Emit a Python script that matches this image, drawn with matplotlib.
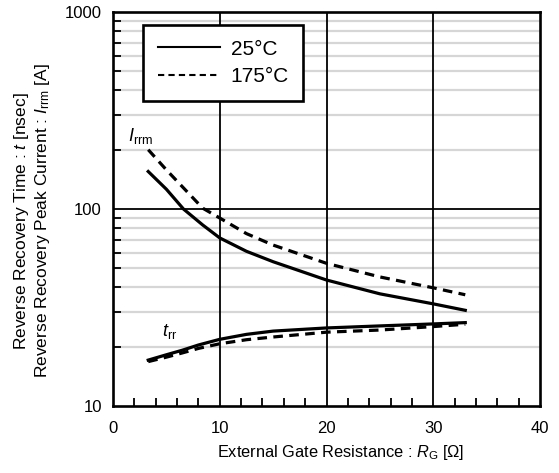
import matplotlib.pyplot as plt
from matplotlib.ticker import FixedLocator, MultipleLocator, NullFormatter

plt.rcParams['font.family'] = ['Liberation Sans', 'DejaVu Sans']
plt.rcParams['mathtext.fontset'] = 'custom'
plt.rcParams['mathtext.rm'] = 'Liberation Sans'
plt.rcParams['mathtext.it'] = 'Liberation Sans:italic'

# data
rg = [3.3, 5, 6.6, 8.4, 10, 12.5, 15, 20, 25, 30, 33]
irrm_25 = [155, 126, 100, 83, 71.3, 61, 54, 43.6, 37.1, 33, 30.6]
irrm_175 = [200, 158, 128, 101, 90, 75, 65.6, 53, 45.2, 39.8, 36.7]
rg_t = [3.3, 5, 6.5, 8, 10, 12.5, 15, 20, 25, 30, 33]
trr_25 = [17.1, 18.2, 19.2, 20.4, 21.8, 23.1, 24.0, 24.9, 25.5, 26.1, 26.5]
trr_175 = [16.8, 17.7, 18.6, 19.6, 20.7, 21.7, 22.4, 23.7, 24.3, 25.3, 26.0]

DASH = (0, (3, 2))

fig = plt.figure(figsize=(5.59, 4.73), dpi=100)
ax = fig.add_axes([113 / 559, 1 - 406 / 473, 427 / 559, 394 / 473])

ax.set_xlim(0, 40)
ax.set_ylim(10, 1000)
ax.set_yscale('log')

minor_y = [k * 10 ** e for e in (1, 2) for k in range(2, 10)]
for v in minor_y:
    ax.axhline(v, color='#d6d6d6', lw=1.6, zorder=0)
ax.axhline(100, color='black', lw=1.3, zorder=1)
for v in (10, 20, 30):
    ax.axvline(v, color='black', lw=1.3, zorder=1)

ax.plot(rg, irrm_25, color='black', lw=2.3, label='25°C', zorder=3)
ax.plot(rg, irrm_175, color='black', lw=2.3, ls=DASH, label='175°C', zorder=3)
ax.plot(rg_t, trr_25, color='black', lw=2.3, zorder=3)
ax.plot(rg_t, trr_175, color='black', lw=2.3, ls=DASH, zorder=3)

ax.text(1.4, 221, r'$I_{\mathrm{rrm}}$', fontsize=13, va='baseline')
ax.text(4.6, 22.6, r'$t_{\mathrm{rr}}$', fontsize=13, va='baseline')

ax.xaxis.set_major_locator(MultipleLocator(10))
ax.xaxis.set_minor_locator(MultipleLocator(2))
ax.yaxis.set_major_locator(FixedLocator([10, 100, 1000]))
ax.yaxis.set_minor_locator(FixedLocator(minor_y))
ax.yaxis.set_minor_formatter(NullFormatter())
ax.set_yticklabels(['10', '100', '1000'])
ax.tick_params(which='both', direction='in', labelsize=12, top=False, right=False)
ax.tick_params(which='major', length=0, pad=8)
ax.tick_params(axis='x', which='major', pad=11)
ax.tick_params(which='minor', length=6, width=1.3)
for s in ax.spines.values():
    s.set_linewidth(1.9)

ax.set_xlabel(r'External Gate Resistance : $R_{\mathrm{G}}$ [Ω]', fontsize=11.8)
ax.xaxis.set_label_coords(0.534, -0.095)
ax.set_ylabel('Reverse Recovery Time : $t$ [nsec]\n'
              r'Reverse Recovery Peak Current : $I_{\mathrm{rrm}}$ [A]',
              fontsize=12.5, linespacing=1.15)
ax.yaxis.set_label_coords(-0.142, 0.47)

leg = ax.legend(loc='upper left', bbox_to_anchor=(30 / 427, 1 - 13 / 394),
                borderaxespad=0, fontsize=15, frameon=True, fancybox=False,
                handlelength=3.0, borderpad=0.7, labelspacing=0.42,
                handletextpad=0.5)
leg.get_frame().set_edgecolor('black')
leg.get_frame().set_linewidth(1.9)
leg.get_frame().set_alpha(1)
for h in leg.get_lines():
    h.set_linewidth(1.5)

fig.savefig('out.png', dpi=100)
